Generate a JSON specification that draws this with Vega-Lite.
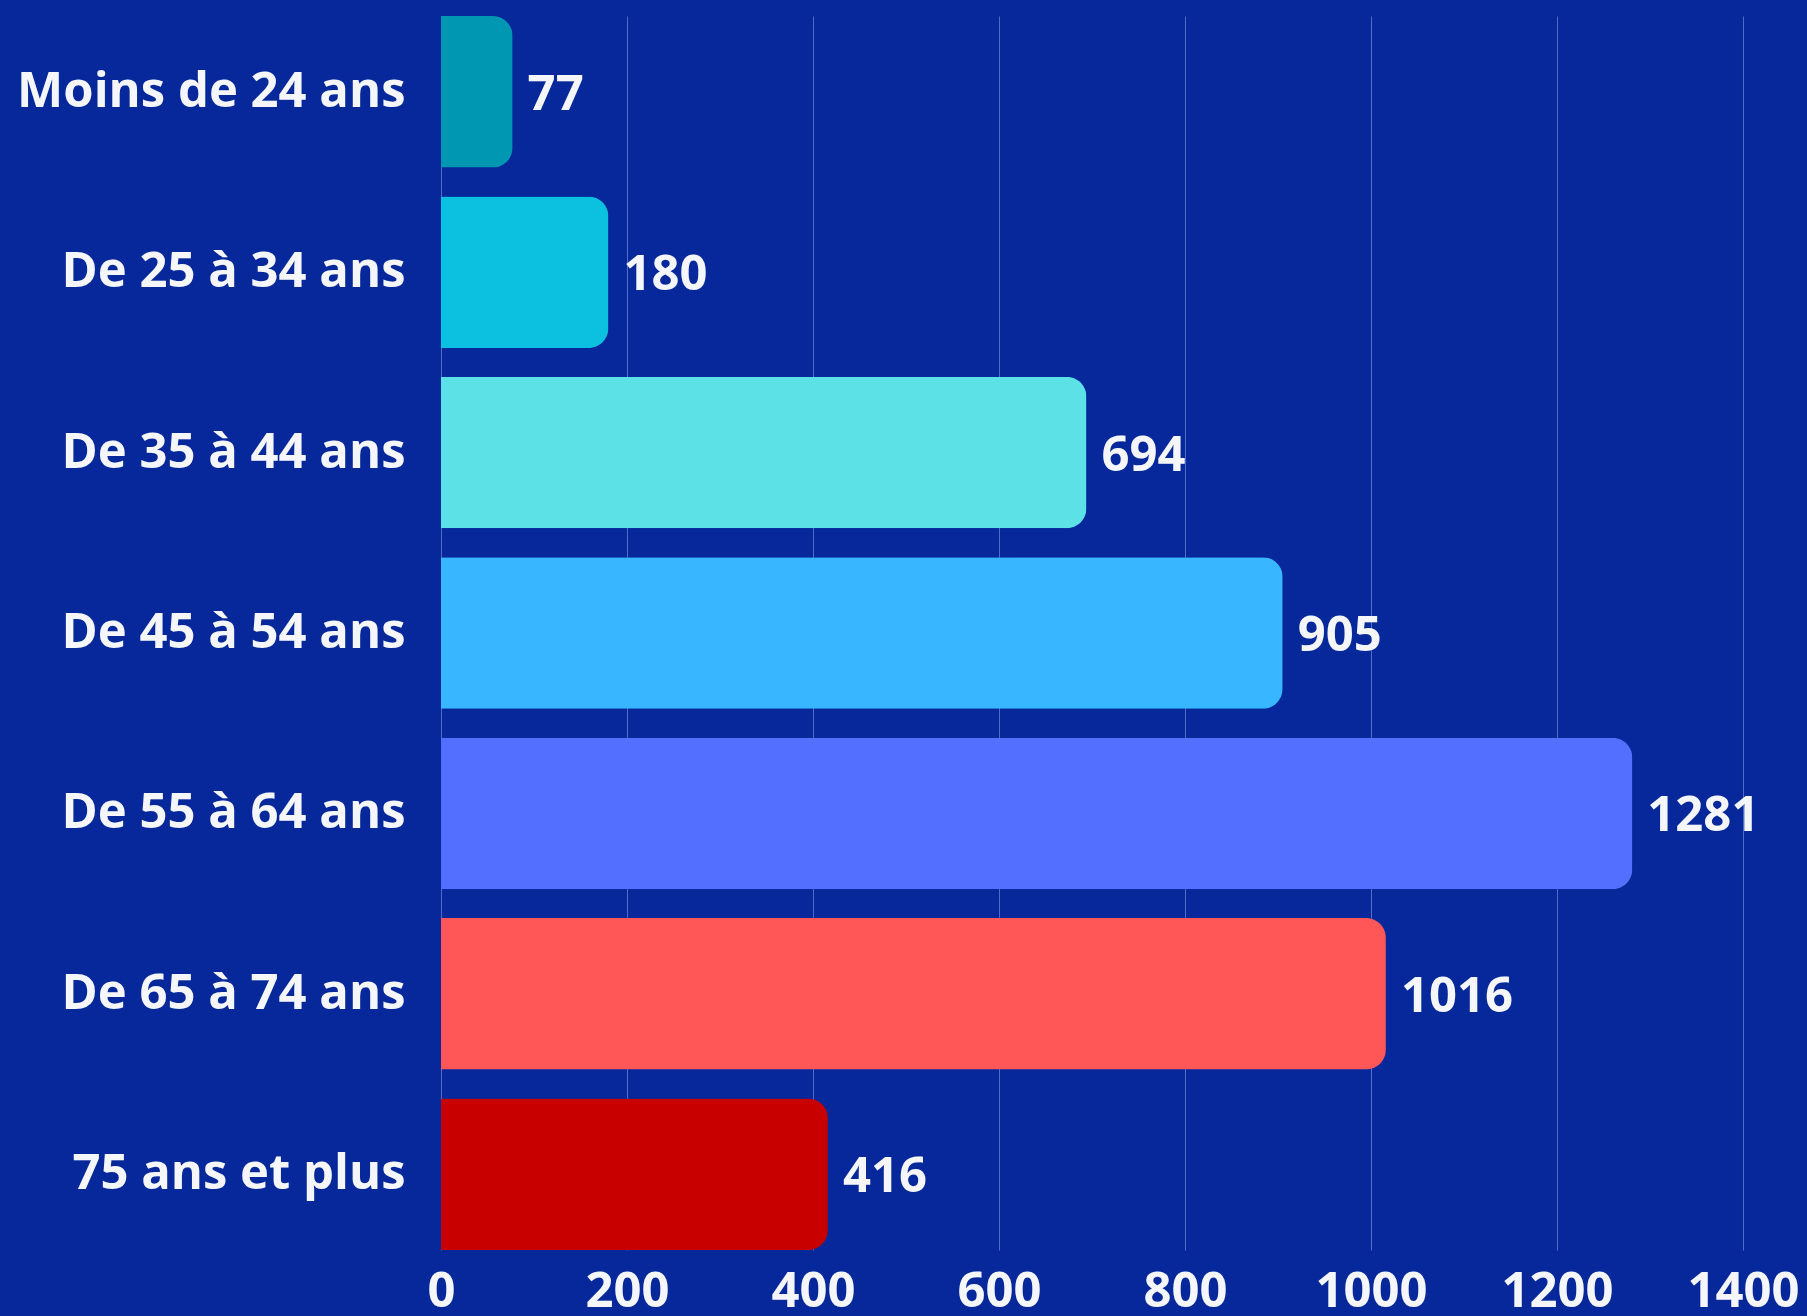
{
  "$schema": "https://vega.github.io/schema/vega-lite/v6.json",
  "autosize": "none",
  "width": 1302,
  "height": 1234,
  "padding": {"left": 441, "top": 16, "right": 64, "bottom": 66},
  "background": "#06289A",
  "config": {
    "view": {"stroke": null},
    "font": "Open Sans"
  },
  "data": {
    "values": [
      {"age": "Moins de 24 ans", "value": 77, "color": "#0097B2"},
      {"age": "De 25 à 34 ans", "value": 180, "color": "#0CC0DF"},
      {"age": "De 35 à 44 ans", "value": 694, "color": "#5CE1E6"},
      {"age": "De 45 à 54 ans", "value": 905, "color": "#38B6FF"},
      {"age": "De 55 à 64 ans", "value": 1281, "color": "#526FFF"},
      {"age": "De 65 à 74 ans", "value": 1016, "color": "#FF5757"},
      {"age": "75 ans et plus", "value": 416, "color": "#C90000"}
    ]
  },
  "encoding": {
    "y": {
      "field": "age",
      "type": "nominal",
      "sort": null,
      "scale": {"paddingInner": 0.16, "paddingOuter": 0},
      "axis": {
        "title": null,
        "ticks": false,
        "domain": false,
        "labelColor": "#F5F6FA",
        "labelFont": "Open Sans",
        "labelFontWeight": "bold",
        "labelFontSize": 49,
        "labelPadding": 36,
        "labelLimit": 500
      }
    },
    "x": {
      "field": "value",
      "type": "quantitative",
      "scale": {"domain": [0, 1400], "nice": false},
      "axis": {
        "title": null,
        "values": [0, 200, 400, 600, 800, 1000, 1200, 1400],
        "format": "d",
        "ticks": false,
        "domain": false,
        "grid": true,
        "gridColor": "#8FA3E8",
        "gridOpacity": 0.55,
        "gridWidth": 1,
        "labelColor": "#F5F6FA",
        "labelFont": "Open Sans",
        "labelFontWeight": "bold",
        "labelFontSize": 49,
        "labelPadding": 17,
        "labelFlush": false
      }
    }
  },
  "layer": [
    {
      "mark": {"type": "bar", "cornerRadiusEnd": 20},
      "encoding": {
        "color": {"field": "color", "type": "nominal", "scale": null}
      }
    },
    {
      "mark": {
        "type": "text",
        "align": "left",
        "baseline": "middle",
        "dx": 15,
        "dy": 3,
        "font": "Open Sans",
        "fontWeight": "bold",
        "fontSize": 49,
        "color": "#F5F6FA"
      },
      "encoding": {
        "text": {"field": "value", "type": "quantitative"}
      }
    }
  ]
}
